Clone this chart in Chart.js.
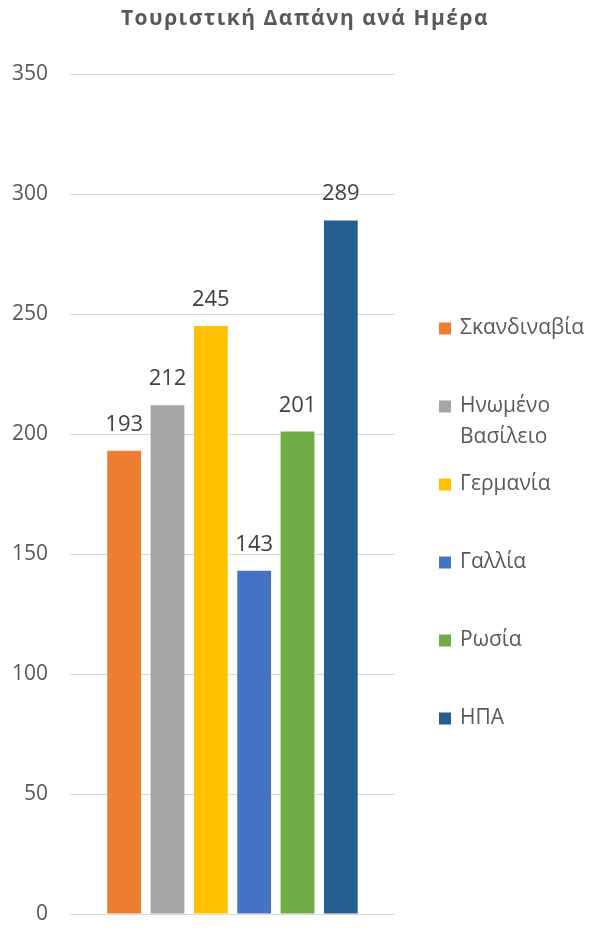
<!DOCTYPE html>
<html lang="el">
<head>
<meta charset="utf-8">
<title>Τουριστική Δαπάνη ανά Ημέρα</title>
<script src="https://cdn.jsdelivr.net/npm/chart.js@4.4.1/dist/chart.umd.min.js"></script>
<style>
  html, body { margin: 0; padding: 0; background: #fff; }
  #wrap { position: relative; width: 591px; height: 934px; }
</style>
</head>
<body>
<div id="wrap"><canvas id="chart" width="591" height="934"></canvas></div>
<script>
// ── Data ────────────────────────────────────────────────────────────────────
const TITLE = "Τουριστική Δαπάνη ανά Ημέρα";
const COUNTRIES = ["Σκανδιναβία", "Ηνωμένο Βασίλειο", "Γερμανία", "Γαλλία", "Ρωσία", "ΗΠΑ"];
const SPENDING  = [193, 212, 245, 143, 201, 289];
const COLORS    = ["#ED7D31", "#A5A5A5", "#FFC000", "#4472C4", "#70AD47", "#255E91"];
const Y_TICKS   = [0, 50, 100, 150, 200, 250, 300, 350];

const FONT = "'Open Sans', 'Noto Sans', 'DejaVu Sans', sans-serif";
const TEXT_GRAY = "#595959";

// ── Plugins: title, value labels, legend ────────────────────────────────────
const titlePlugin = {
  id: "excelTitle",
  afterDraw(chart) {
    const { ctx } = chart;
    ctx.save();
    ctx.font = `bold 21px ${FONT}`;
    ctx.letterSpacing = "1.5px";
    ctx.fillStyle = TEXT_GRAY;
    ctx.textAlign = "center";
    ctx.textBaseline = "alphabetic";
    ctx.fillText(TITLE, 305, 25);
    ctx.restore();
  },
};

const valueLabels = {
  id: "valueLabels",
  afterDatasetsDraw(chart) {
    const { ctx } = chart;
    ctx.save();
    ctx.font = `22px ${FONT}`;
    ctx.fillStyle = "#404040";
    ctx.textAlign = "center";
    ctx.textBaseline = "alphabetic";
    chart.data.datasets.forEach((ds, i) => {
      chart.getDatasetMeta(i).data.forEach((bar, j) => {
        ctx.fillText(String(ds.data[j]), bar.x, bar.y - 20);
      });
    });
    ctx.restore();
  },
};

const sideLegend = {
  id: "sideLegend",
  afterDraw(chart) {
    const { ctx, chartArea } = chart;
    const boxX  = chartArea.right + 44;
    const textX = boxX + 21;
    const maxW  = chart.width - textX - 4;
    const lineH = 31;
    let y = chartArea.top + 254.5;

    ctx.save();
    ctx.font = `21px ${FONT}`;
    ctx.textBaseline = "middle";
    ctx.textAlign = "left";
    chart.data.datasets.forEach((ds) => {
      // word-wrap long names (e.g. "Ηνωμένο Βασίλειο")
      const lines = [];
      let cur = "";
      ds.label.split(" ").forEach((w) => {
        const test = cur ? cur + " " + w : w;
        if (cur && ctx.measureText(test).width > maxW) { lines.push(cur); cur = w; }
        else cur = test;
      });
      lines.push(cur);

      ctx.fillStyle = ds.backgroundColor;
      ctx.fillRect(boxX, y - 6, 12, 12);
      ctx.fillStyle = TEXT_GRAY;
      lines.forEach((ln, k) => ctx.fillText(ln, textX, y + k * lineH));
      y += 78;
    });
    ctx.restore();
  },
};

// ── Chart ───────────────────────────────────────────────────────────────────
const datasets = COUNTRIES.map((name, i) => ({
  label: name,
  data: [SPENDING[i]],
  backgroundColor: COLORS[i],
  borderWidth: 0,
}));

new Chart(document.getElementById("chart"), {
  type: "bar",
  data: { labels: [""], datasets },
  options: {
    responsive: false,
    animation: false,
    layout: { padding: { top: 74, right: 196, bottom: 20, left: 0 } },
    datasets: { bar: { categoryPercentage: 0.8, barPercentage: 0.78 } },
    plugins: {
      legend: { display: false },
      title: { display: false },
      tooltip: { enabled: false },
    },
    scales: {
      x: { display: false },
      y: {
        min: 0,
        max: 350,
        afterBuildTicks: (scale) => { scale.ticks = Y_TICKS.map((v) => ({ value: v })); },
        afterFit: (scale) => {
          scale.width = 70;
          // tick padding would otherwise push the plot up from the bottom
          scale.paddingTop = 0;
          scale.paddingBottom = 0;
        },
        border: { display: false },
        grid: { color: "#D9D9D9", lineWidth: 1, drawTicks: false },
        ticks: {
          padding: 22,
          color: TEXT_GRAY,
          font: { family: FONT, size: 21 },
        },
      },
    },
  },
  plugins: [titlePlugin, valueLabels, sideLegend],
});
</script>
</body>
</html>
